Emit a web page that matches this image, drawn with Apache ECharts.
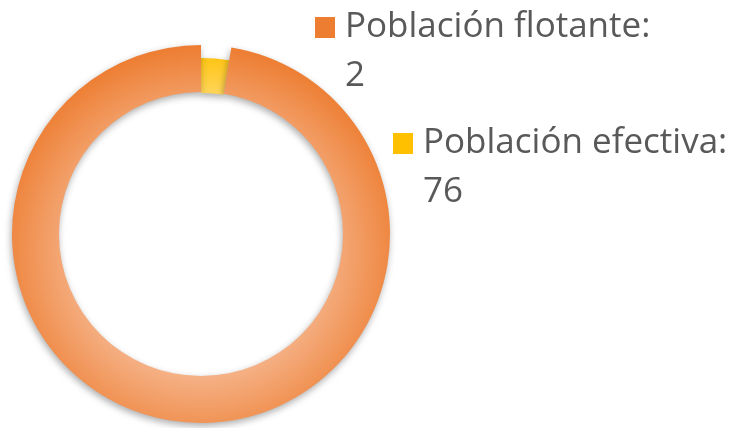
<!DOCTYPE html>
<html>
<head>
<meta charset="utf-8">
<script src="https://cdn.jsdelivr.net/npm/echarts@6/dist/echarts.min.js"></script>
<style>
  html, body { margin: 0; padding: 0; background: #fff; }
  #chart-container { width: 733px; height: 428px; }
</style>
</head>
<body>
<div id="chart-container"></div>
<script>
// datos
const categories = ['Población flotante', 'Población efectiva'];
const values = [2, 76];

// colores de las marcas de la etiqueta (tal como en la imagen)
const keyColors = ['#ED7D31', '#FFC000'];
// posiciones de las etiquetas
const labelPos = [[315, 3], [393, 119]];

const chart = echarts.init(document.getElementById('chart-container'));

const orangeFill = new echarts.graphic.RadialGradient(0.5, 0.55, 0.55, [
    { offset: 0.6, color: '#F5B084' },
    { offset: 1, color: '#ED7D31' }
]);
const yellowFill = new echarts.graphic.LinearGradient(0, 0, 0, 1, [
    { offset: 0, color: '#FFC414' },
    { offset: 1, color: '#FFD65C' }
]);

const shadow = {
    shadowBlur: 7,
    shadowOffsetX: -1,
    shadowOffsetY: 3,
    shadowColor: 'rgba(0,0,0,0.32)'
};

const option = {
    animation: false,
    series: [
        // anillo interior (porción pequeña)
        {
            type: 'pie',
            center: [201, 234],
            radius: [141, 176],
            startAngle: 90,
            clockwise: true,
            silent: true,
            label: { show: false },
            labelLine: { show: false },
            data: categories.map((name, i) => ({
                name: name,
                value: values[i],
                itemStyle: i === 0
                    ? Object.assign({ color: yellowFill }, shadow)
                    : { color: 'transparent' }
            }))
        },
        // anillo exterior (porción grande) con etiquetas
        {
            type: 'pie',
            center: [201, 234],
            radius: [142, 189],
            startAngle: 90,
            clockwise: true,
            silent: true,
            labelLine: { show: false },
            label: {
                show: true,
                position: 'outside',
                alignTo: 'none',
                overflow: 'none',
                formatter: (p) => '{k' + p.dataIndex + '|}{g|}{t|' + p.name + ':}\n{g2|}{t|' + p.value + '}',
                rich: {
                    k0: { width: 20, height: 21, backgroundColor: keyColors[0] },
                    k1: { width: 20, height: 21, backgroundColor: keyColors[1] },
                    g: { width: 10 },
                    g2: { width: 30 },
                    t: {
                        fontFamily: 'Open Sans',
                        fontSize: 35,
                        color: '#595959',
                        lineHeight: 49
                    }
                }
            },
            labelLayout: (params) => ({
                x: labelPos[params.dataIndex][0],
                y: labelPos[params.dataIndex][1],
                align: 'left',
                verticalAlign: 'top'
            }),
            data: categories.map((name, i) => ({
                name: name,
                value: values[i],
                itemStyle: i === 1
                    ? Object.assign({ color: orangeFill }, shadow)
                    : { color: 'transparent' }
            }))
        }
    ]
};

chart.setOption(option);
</script>
</body>
</html>
